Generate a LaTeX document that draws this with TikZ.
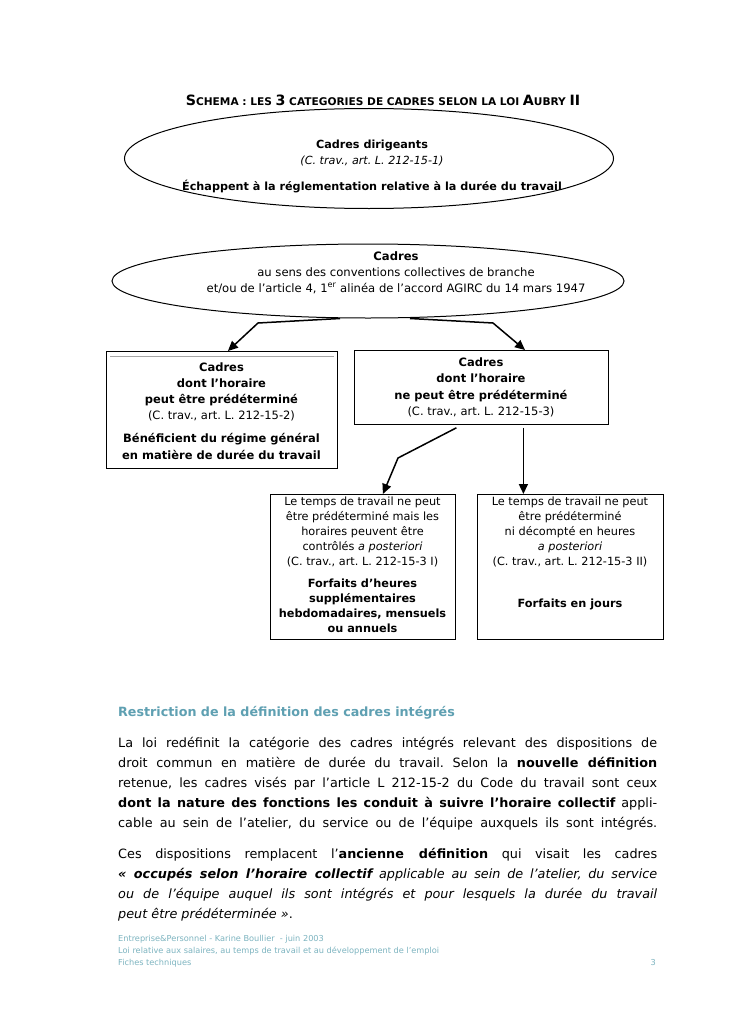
\documentclass[tikz,border=0pt]{standalone}
\usepackage{fontspec}
\setmainfont{DejaVu Sans}
\usetikzlibrary{shapes.geometric,arrows.meta,calc}
\definecolor{tealhead}{RGB}{95,160,178}
\definecolor{tealfoot}{RGB}{125,180,192}
\newcommand{\titlebig}[1]{{\fontsize{14.2}{16}\selectfont #1}}
\newcommand{\titlesmall}[1]{{\fontsize{10.6}{16}\selectfont #1}}
\newsavebox\jlbox
\newcommand{\jline}[1]{\sbox\jlbox{#1}\ifdim\wd\jlbox>539pt\relax
  \hbox{\resizebox{539pt}{\height}{\usebox\jlbox}}\else\hbox to 539pt{#1}\fi}
\frenchspacing
\begin{document}
\begin{tikzpicture}[x=1pt,y=-1pt,
  ell/.style={draw, ellipse, line width=1pt, inner sep=0},
  box/.style={draw, rectangle, line width=0.8pt, inner sep=0, anchor=north west},
  txt/.style={align=center, inner sep=0, anchor=base},
  arr/.style={line width=1.5pt, -{Triangle[length=10pt,width=9pt]}},
]
\useasboundingbox (0,0) rectangle (728,1030);
\fill[white] (0,0) rectangle (728,1030);

% title
\node[anchor=base, inner sep=0, font=\bfseries] (title) at (383,106)
  {\titlebig{S}\titlesmall{CHEMA : LES }\titlebig{3}\titlesmall{ CATEGORIES DE CADRES SELON LA LOI }\titlebig{A}\titlesmall{UBRY }\titlebig{II}};

% ellipse 1 (anchor base = last line)
\node[ell, minimum width=489, minimum height=100] (e1) at (369,158.5) {};
\node[txt, font=\fontsize{11.2}{16.5}\selectfont] (e1t) at (372,190)
  {\textbf{Cadres dirigeants}\\ \textit{(C. trav., art. L. 212-15-1)}\\[9pt]
   \textbf{Échappent à la réglementation relative à la durée du travail}};

% ellipse 2
\node[ell, minimum width=512, minimum height=74] (e2) at (368,281) {};
\node[txt, font=\fontsize{11.6}{16}\selectfont] (e2t) at (396,292)
  {\textbf{Cadres}\\ au sens des conventions collectives de branche\\
   et/ou de l'article 4, 1\textsuperscript{er} alinéa de l'accord AGIRC du 14 mars 1947};

% boxes
\node[box, minimum width=231, minimum height=117] (lbox) at (106,351) {};
\draw[gray!70, line width=0.8pt] ($(lbox.north west)+(4,5)$) coordinate (g1) -- ($(lbox.north east)+(-4,5)$) coordinate (g2);
\node[txt, font=\fontsize{11.5}{16.2}\selectfont] (lboxt) at (221.5,459)
  {\textbf{Cadres}\\ \textbf{dont l'horaire}\\ \textbf{peut être prédéterminé}\\
   (C. trav., art. L. 212-15-2)\\[7pt]
   \textbf{Bénéficient du régime général}\\ \textbf{en matière de durée du travail}};

\node[box, minimum width=254, minimum height=74] (rbox) at (354,350) {};
\node[txt, font=\fontsize{11.5}{16.5}\selectfont] (rboxt) at (481,415.5)
  {\textbf{Cadres}\\ \textbf{dont l'horaire}\\ \textbf{ne peut être prédéterminé}\\
   (C. trav., art. L. 212-15-3)};

\node[box, minimum width=185, minimum height=145] (blbox) at (270,494) {};
\node[txt, font=\fontsize{11.3}{15}\selectfont] (blboxt) at (362.5,632)
  {Le temps de travail ne peut\\ être prédéterminé mais les\\ horaires peuvent être\\
   contrôlés \textit{a posteriori}\\ (C. trav., art. L. 212-15-3 I)\\[7pt]
   \textbf{Forfaits d'heures}\\ \textbf{supplémentaires}\\ \textbf{hebdomadaires, mensuels}\\ \textbf{ou annuels}};

\node[box, minimum width=186, minimum height=145] (brbox) at (477,494) {};
\node[txt, font=\fontsize{11.3}{15}\selectfont] (brboxt) at (570,607)
  {Le temps de travail ne peut\\ être prédéterminé\\ ni décompté en heures\\
   \textit{a posteriori}\\ (C. trav., art. L. 212-15-3 II)\\[27pt]
   \textbf{Forfaits en jours}};

% arrows
\coordinate (a1s) at ($(e2.south)+(-28,0)$);
\coordinate (a1b) at (258,323);
\draw[arr] (a1s) -- (a1b) -- ($(lbox.north)+(6,0)$);
\coordinate (a2s) at ($(e2.south)+(42,0)$);
\coordinate (a2b) at (493,323);
\draw[arr] (a2s) -- (a2b) -- ($(rbox.north west)+(171,0)$);
\coordinate (a3s) at ($(rbox.south)+(-25,3)$);
\coordinate (a3b) at (398,458);
\draw[arr] (a3s) -- (a3b) -- ($(blbox.north)+(20,0)$);
\coordinate (a4s) at ($(rbox.south)+(42,3)$);
\draw[arr] (a4s) -- (a4s |- brbox.north);

% heading
\node[anchor=base west, inner sep=0, text=tealhead, font=\fontsize{12.7}{14}\selectfont\bfseries] (head) at (118,716)
  {Restriction de la définition des cadres intégrés};

% paragraph
\node[anchor=base west, inner sep=0] (para) at (118,747) {\parbox[t]{539pt}{\fontsize{12.8}{20}\selectfont
\jline{La loi redéfinit la catégorie des cadres intégrés relevant des dispositions de}
\jline{droit commun en matière de durée du travail. Selon la \textbf{nouvelle définition}}
\jline{retenue, les cadres visés par l'article L 212-15-2 du Code du travail sont ceux}
\jline{\textbf{dont la nature des fonctions les conduit à suivre l'horaire collectif} appli-}
\jline{cable au sein de l'atelier, du service ou de l'équipe auxquels ils sont intégrés.}
\vskip 11pt
\jline{Ces dispositions remplacent l'\textbf{ancienne définition} qui visait les cadres}
\jline{\textit{\textbf{« occupés selon l'horaire collectif} applicable au sein de l'atelier, du service}}
\jline{\textit{ou de l'équipe auquel ils sont intégrés et pour lesquels la durée du travail}}
\hbox{\textit{peut être prédéterminée »}.}
}};

% footer
\node[anchor=base west, inner sep=0, align=left, text=tealfoot, font=\fontsize{8.2}{12}\selectfont] (foot) at (118,965)
  {Entreprise\&Personnel - Karine Boullier\ \ - juin 2003\\
   Loi relative aux salaires, au temps de travail et au développement de l'emploi\\
   Fiches techniques};
\node[anchor=base east, inner sep=0, text=tealfoot, font=\fontsize{8.2}{12}\selectfont] (pnum) at (656,965) {3};
\end{tikzpicture}
\end{document}
